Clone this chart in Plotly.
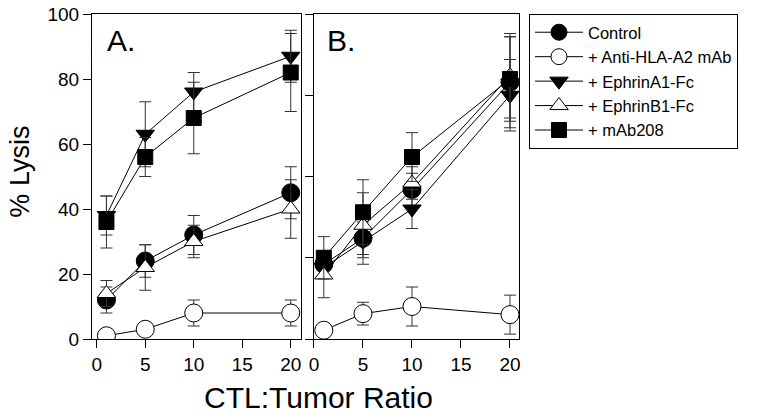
import plotly.graph_objects as go

ratios = [1, 5, 10, 20]
series_names = ["Control", "+ Anti-HLA-A2 mAb", "+ EphrinA1-Fc", "+ EphrinB1-Fc", "+ mAb208"]

# Panel A values and errors
a_control = [12, 24, 32, 45]
a_control_err = [4, 5, 6, 8]
a_anti = [1, 3, 8, 8]
a_anti_err = [1, 2, 4, 4]
a_ephA1 = [38, 63, 76, 87]
a_ephA1_err = [6, 10, 6, 8]
a_ephB1 = [14, 22, 30, 40]
a_ephB1_err = [4, 7, 5, 9]
a_mab = [36, 56, 68, 82]
a_mab_err = [8, 6, 11, 12]

# Panel B values and errors
b_control = [23, 31, 46, 79]
b_control_err = [4, 5, 5, 14]
b_anti = [2.7, 7.8, 10, 7.5]
b_anti_err = [1, 3.5, 6, 6]
b_ephA1 = [22, 30, 40, 75]
b_ephA1_err = [3, 7, 6, 11]
b_ephB1 = [19.7, 35, 48, 81]
b_ephB1_err = [7, 10, 5, 13]
b_mab = [25, 39, 56, 80]
b_mab_err = [6.5, 10, 7.5, 13]

y_ticks_a = [0, 20, 40, 60, 80, 100]
y_ticks_b = [0, 25, 50, 75, 100]
x_ticks = [0, 5, 10, 15, 20]

styles = [
    dict(symbol="circle", size=18, color="black"),
    dict(symbol="circle", size=18, color="white"),
    dict(symbol="triangle-down", size=16, color="black"),
    dict(symbol="triangle-up", size=16, color="white"),
    dict(symbol="square", size=15, color="black"),
]

panel_a = [(a_control, a_control_err), (a_anti, a_anti_err), (a_ephA1, a_ephA1_err),
           (a_ephB1, a_ephB1_err), (a_mab, a_mab_err)]
panel_b = [(b_control, b_control_err), (b_anti, b_anti_err), (b_ephA1, b_ephA1_err),
           (b_ephB1, b_ephB1_err), (b_mab, b_mab_err)]

fig = go.Figure()
for panel, (xa, ya) in ((panel_a, ("x", "y")), (panel_b, ("x2", "y2"))):
    for i, (vals, errs) in enumerate(panel):
        st = styles[i]
        fig.add_trace(go.Scatter(
            x=ratios, y=vals, mode="lines+markers",
            name=series_names[i], showlegend=(xa == "x"),
            xaxis=xa, yaxis=ya,
            line=dict(color="black", width=1),
            marker=dict(symbol=st["symbol"], size=st["size"], color=st["color"],
                        line=dict(color="black", width=1)),
            error_y=dict(type="data", array=errs, visible=True, color="#333333",
                         thickness=1, width=6),
        ))

font = "Liberation Sans, Arial, sans-serif"
axis_common = dict(showline=True, linecolor="black", linewidth=1, mirror=True,
                   ticks="outside", ticklen=8, tickcolor="black", tickwidth=1,
                   showgrid=False, zeroline=False, automargin=False,
                   tickfont=dict(family=font, size=19, color="black"))

fig.update_layout(
    width=762, height=417,
    margin=dict(l=92, r=243, t=14, b=78, autoexpand=False),
    plot_bgcolor="white", paper_bgcolor="white",
    font=dict(family=font, color="black"),
    xaxis=dict(domain=[0, 0.4895], range=[-0.49, 21.06], tickvals=x_ticks, **axis_common),
    yaxis=dict(domain=[0, 1], range=[0, 100], tickvals=y_ticks_a, **axis_common),
    xaxis2=dict(domain=[0.5199, 1], range=[0, 20.92], tickvals=x_ticks, anchor="y2", **axis_common),
    yaxis2=dict(domain=[0, 1], range=[0, 100], tickvals=y_ticks_b, showticklabels=False,
                anchor="x2", **axis_common),
    legend=dict(x=1.0234, y=1, xanchor="left", yanchor="top",
                bordercolor="black", borderwidth=1, bgcolor="white",
                font=dict(family=font, size=16.5, color="black"),
                itemwidth=48, tracegroupgap=0),
    showlegend=True,
    annotations=[
        dict(text="CTL:Tumor Ratio", x=0.5316, y=-0.1815, xref="paper", yref="paper",
             xanchor="center", yanchor="middle", showarrow=False,
             font=dict(family=font, size=30, color="black")),
        dict(text="% Lysis", x=-0.1686, y=0.515, xref="paper", yref="paper",
             xanchor="center", yanchor="middle", showarrow=False, textangle=-90,
             font=dict(family=font, size=27, color="black")),
        dict(text="A.", x=0.062, y=0.917, xref="x domain", yref="y domain",
             xanchor="left", yanchor="middle", showarrow=False,
             font=dict(family=font, size=30, color="black")),
        dict(text="B.", x=0.054, y=0.917, xref="x2 domain", yref="y2 domain",
             xanchor="left", yanchor="middle", showarrow=False,
             font=dict(family=font, size=30, color="black")),
    ],
)

# remove the browser's default 8px page margin so the figure sits at the window's corner
fig.write_html("out.html",
               config={"displayModeBar": False},
               post_script="document.body.style.margin='0';document.body.style.overflow='hidden';")
